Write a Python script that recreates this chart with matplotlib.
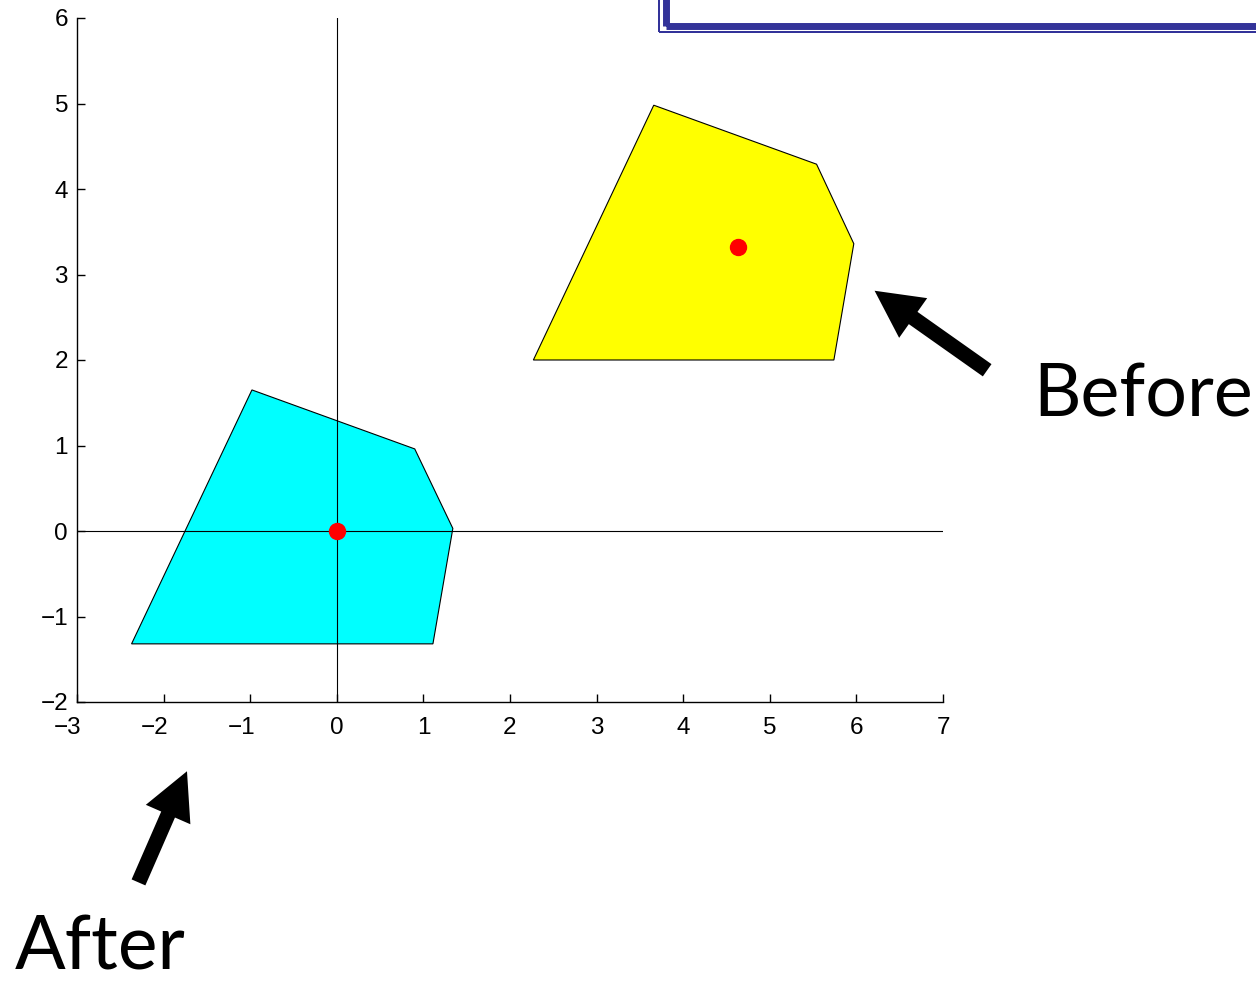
import numpy as np
import matplotlib
matplotlib.use("Agg")
import matplotlib.pyplot as plt
from matplotlib.patches import Polygon, Rectangle
from matplotlib.transforms import ScaledTranslation

# shape before the move (yellow) and its centre point
before_x = [2.27, 3.66, 5.54, 5.97, 5.74]
before_y = [2.00, 4.98, 4.29, 3.36, 2.00]
before_c = [4.63, 3.32]

# shape after the move (cyan), centre on the origin
after_x = [-2.37, -0.98, 0.90, 1.34, 1.11]
after_y = [-1.32, 1.65, 0.96, 0.03, -1.32]
after_c = [0.0, 0.0]

xticks = [-3, -2, -1, 0, 1, 2, 3, 4, 5, 6, 7]
yticks = [-2, -1, 0, 1, 2, 3, 4, 5, 6]

W, H, DPI = 1256, 984, 100
fig = plt.figure(figsize=(W / DPI, H / DPI), dpi=DPI)
ax = fig.add_axes([77 / W, 1 - 702 / H, (943 - 77) / W, (702 - 18) / H])
ax.set_xlim(-3, 7)
ax.set_ylim(-2, 6)

tickfont = dict(family="Liberation Sans", size=17.5)

# axis lines through the origin
ax.plot([0, 0], [-2, 6], color="black", lw=0.8, zorder=3)
ax.plot([-3, 7], [0, 0], color="black", lw=0.8, zorder=3)

ax.add_patch(Polygon(np.column_stack([before_x, before_y]), closed=True,
                     fc="#ffff00", ec="black", lw=0.8, zorder=2))
ax.add_patch(Polygon(np.column_stack([after_x, after_y]), closed=True,
                     fc="#00ffff", ec="black", lw=0.8, zorder=2))
ax.plot([before_c[0], after_c[0]], [before_c[1], after_c[1]], "o",
        color="#ff0000", ms=11.5, zorder=4)

# matlab-like axes: box off, ticks inside
for s in ["top", "right"]:
    ax.spines[s].set_visible(False)
for s in ["left", "bottom"]:
    ax.spines[s].set_linewidth(1.0)
ax.set_xticks(xticks)
ax.set_yticks(yticks)
ax.tick_params(direction="in", length=6, width=1.0, labelbottom=False,
               labelleft=False)

# tick labels: digit centred on the tick, minus sign hangs to the left
for t in xticks:
    lab = str(t).replace("-", "\u2212")
    dx = -9 / DPI if t < 0 else 0
    ax.text(t, -2, lab,
            transform=ax.transData + ScaledTranslation(dx, -15 / DPI, fig.dpi_scale_trans),
            ha="center", va="top", clip_on=False, **tickfont)
for t in yticks:
    lab = str(t).replace("-", "\u2212")
    ax.text(-3, t, lab,
            transform=ax.transData + ScaledTranslation(-9 / DPI, 0, fig.dpi_scale_trans),
            ha="right", va="center_baseline", clip_on=False, **tickfont)

arrow = dict(width=10.8, headwidth=35, headlength=34, fc="black", ec="none",
             shrink=0)
ax.annotate("", xy=(6.21, 2.81), xytext=(7.51, 1.88), arrowprops=arrow,
            annotation_clip=False)
ax.annotate("", xy=(-1.73, -2.81), xytext=(-2.29, -4.11), arrowprops=arrow,
            annotation_clip=False)

fig.text(1033 / W, 1 - 416 / H, "Before", family="Lato", fontsize=53,
         ha="left", va="baseline")
fig.text(15 / W, 1 - 969 / H, "After", family="Lato", fontsize=54,
         ha="left", va="baseline")

# slide frame at the top right
blue = "#333399"
fig.patches.append(Rectangle((659 / W, 1 - 32 / H), (W - 659) / W + 0.05, 0.2,
                             transform=fig.transFigure, fc="none", ec=blue,
                             lw=1.44, figure=fig))
fig.patches.append(Rectangle((665.5 / W, 1 - 25.5 / H), (W - 665) / W + 0.05, 0.2,
                             transform=fig.transFigure, fc="none", ec=blue,
                             lw=5, figure=fig))

fig.savefig("out.png", dpi=DPI)
